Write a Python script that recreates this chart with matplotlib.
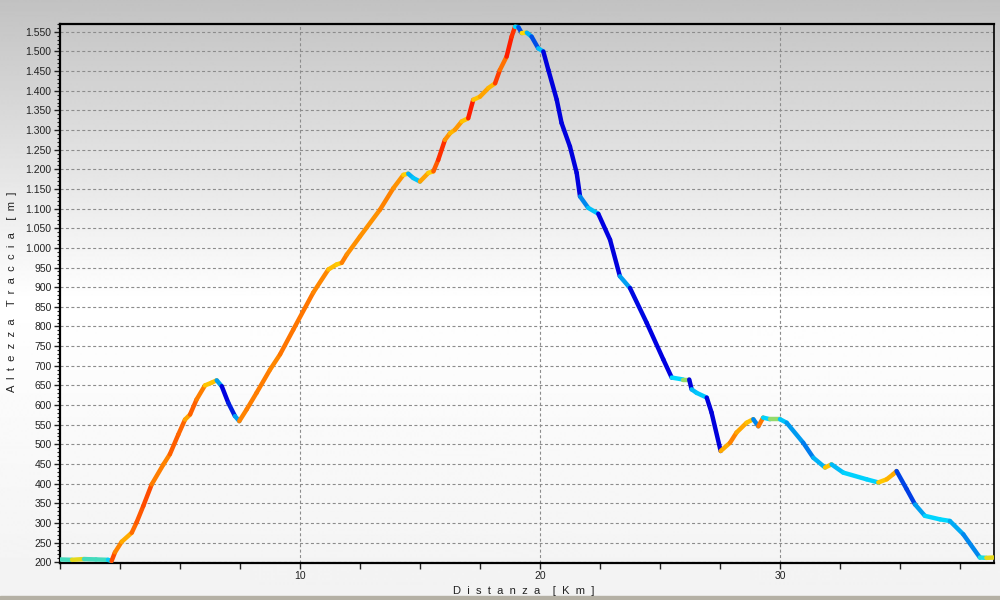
import numpy as np
import matplotlib
matplotlib.use("Agg")
from matplotlib import pyplot as plt
from matplotlib.collections import LineCollection
from matplotlib.colors import LinearSegmentedColormap, Normalize
from matplotlib.ticker import FixedLocator, MultipleLocator, FuncFormatter

# distance along the track [km] and altitude [m]
dist_km = [0.0, 0.5, 1.0, 1.5, 2.0, 2.15, 2.29, 2.57, 2.99, 3.19, 3.47, 3.82,
           4.31, 4.58, 4.93, 5.21, 5.42, 5.69, 6.04, 6.32, 6.53, 6.74, 7.01,
           7.29, 7.47, 7.78, 8.19, 8.75, 9.17, 9.72, 10.55, 11.18, 11.53,
           11.74, 11.95, 12.5, 13.33, 13.89, 14.31, 14.51, 14.72, 15.0, 15.35,
           15.56, 15.76, 16.04, 16.25, 16.46, 16.74, 17.01, 17.22, 17.5,
           17.85, 18.13, 18.33, 18.61, 18.82, 18.96, 19.1, 19.24, 19.45,
           19.65, 19.93, 20.14, 20.35, 20.7, 20.9, 21.25, 21.53, 21.67, 22.01,
           22.43, 22.92, 23.33, 23.75, 24.45, 25.14, 25.49, 25.97, 26.22,
           26.32, 26.53, 26.95, 27.15, 27.53, 27.92, 28.19, 28.61, 28.89,
           29.1, 29.3, 29.58, 30.0, 30.28, 30.97, 31.39, 31.88, 32.15, 32.64,
           33.61, 34.1, 34.45, 34.72, 34.86, 35.28, 35.63, 36.04, 36.67,
           37.08, 37.64, 38.33, 38.6, 38.92]
alt_m = [207, 206, 208, 207, 206, 203, 225, 252, 275, 301, 343, 398,
         449, 475, 525, 563, 576, 614, 650, 657, 663, 648, 606,
         572, 559, 589, 631, 690, 729, 792, 886, 945, 958,
         962, 983, 1029, 1097, 1152, 1186, 1189, 1178, 1169, 1191,
         1195, 1224, 1275, 1292, 1301, 1322, 1330, 1377, 1385,
         1407, 1419, 1453, 1487, 1538, 1563, 1562, 1547, 1548,
         1538, 1508, 1500, 1453, 1377, 1318, 1258, 1191, 1131, 1102,
         1087, 1021, 928, 898, 809, 716, 670, 665, 665,
         640, 631, 619, 581, 483, 504, 530, 555, 564,
         546, 568, 564, 564, 555, 504, 466, 441, 449, 428,
         411, 403, 411, 424, 432, 386, 347, 318, 309,
         305, 271, 212, 211, 212]

yticks = list(range(200, 1551, 50))
xticks = [10, 20, 30]

# grade [%] -> colour, as the GPS software paints the track
grade_colors = [(-20, "#0000dc"), (-13, "#0000e1"), (-11, "#0046e6"),
                (-8, "#0096f0"), (-4, "#00befa"), (-0.5, "#00dcff"),
                (0.5, "#ffd800"), (5, "#ffb000"), (10, "#ff8000"),
                (14, "#ff6400"), (17, "#ff3c00"), (20, "#ff1e00")]

plt.rcParams["font.family"] = ["Liberation Sans", "DejaVu Sans"]

fig = plt.figure(figsize=(10, 6), dpi=100)

# vertical grey gradient behind the whole figure
bg = fig.add_axes([0, 0, 1, 1], zorder=0)
rows = np.linspace(0, 600, 601)
shade = np.interp(rows, [0, 300, 600], [0.76, 1.0, 0.95])
bg.imshow(np.repeat(shade[:, None], 2, axis=1), cmap="gray", vmin=0, vmax=1,
          aspect="auto", extent=[0, 1, 0, 1])
bg.axhspan(0, 0.006, color="#b4b0a4")
bg.set_xlim(0, 1)
bg.set_ylim(0, 1)
bg.axis("off")

ax = fig.add_axes([0.06, 0.0617, 0.934, 0.8983], zorder=1)
ax.set_facecolor("none")

x = np.array(dist_km)
y = np.array(alt_m)
grade = np.diff(y) / (np.diff(x) * 1000) * 100
lo, hi = grade_colors[0][0], grade_colors[-1][0]
cmap = LinearSegmentedColormap.from_list(
    "grade", [((g - lo) / (hi - lo), c) for g, c in grade_colors])
pts = np.column_stack([x, y]).reshape(-1, 1, 2)
segs = np.concatenate([pts[:-1], pts[1:]], axis=1)
lc = LineCollection(segs, cmap=cmap, norm=Normalize(lo, hi), linewidths=3.2,
                    capstyle="round", joinstyle="round", zorder=3)
lc.set_array(grade)
ax.add_collection(lc)

ax.set_xlim(0, 38.92)
ax.set_ylim(198, 1570)

ax.xaxis.set_major_locator(FixedLocator(xticks))
ax.xaxis.set_minor_locator(MultipleLocator(2.5))
ax.yaxis.set_major_locator(FixedLocator(yticks))
ax.yaxis.set_minor_locator(MultipleLocator(10))
ax.yaxis.set_major_formatter(FuncFormatter(lambda v, p: f"{int(v):,}".replace(",", ".")))

ax.tick_params(axis="both", which="major", labelsize=7.5, length=4, width=1,
               color="#222222", labelcolor="#222222")
ax.tick_params(axis="x", which="minor", length=4, width=1, color="#222222")
ax.tick_params(axis="y", which="minor", length=2, width=0.8, color="#222222")
ax.tick_params(axis="y", which="major", pad=2)
ax.tick_params(axis="x", which="major", pad=2)

ax.grid(True, which="major", color="#8c8c8c", linewidth=0.8,
        linestyle=(0, (2.7, 2.2)), zorder=1)
ax.set_axisbelow(True)

for side in ["left", "bottom", "top", "right"]:
    ax.spines[side].set_color("black")
    ax.spines[side].set_linewidth(1.6)
ax.spines["right"].set_linewidth(1.2)

ax.set_xlabel("D  i  s  t  a  n  z  a    [  K  m  ]", fontsize=8, color="#222222")
ax.set_ylabel("A  l  t  e  z  z  a    T  r  a  c  c  i  a    [  m  ]", fontsize=8,
              color="#222222")
ax.xaxis.set_label_coords(0.496, -0.042)
ax.yaxis.set_label_coords(-0.046, 0.503)

fig.savefig("out.png", dpi=100)
